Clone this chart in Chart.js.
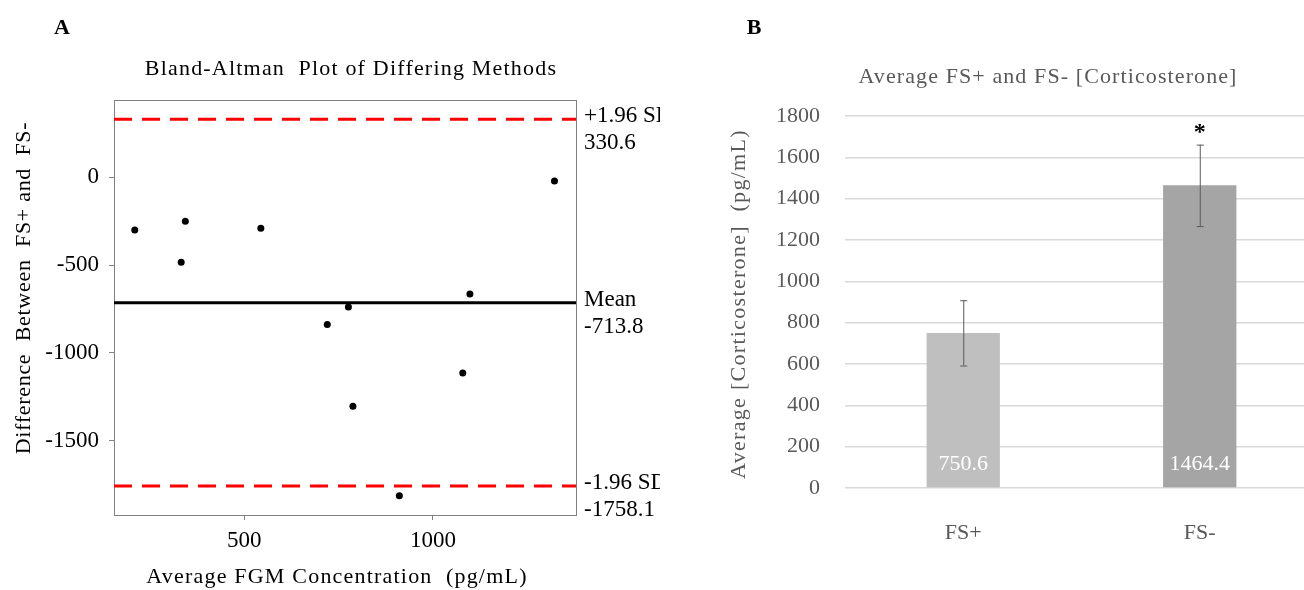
<!DOCTYPE html>
<html>
<head>
<meta charset="utf-8">
<script src="https://cdn.jsdelivr.net/npm/chart.js@4.4.1/dist/chart.umd.min.js"></script>
<style>
  html, body { margin: 0; padding: 0; background: #fff; overflow: hidden; }
  body { width: 1304px; height: 590px; position: relative; }
  #chart-a { position: absolute; left: 0; top: 0; }
  #chart-b { position: absolute; left: 660px; top: 0; }
</style>
</head>
<body>
<canvas id="chart-a" width="660" height="590"></canvas>
<canvas id="chart-b" width="660" height="590"></canvas>
<script>
// panel A: Bland-Altman points
const avgFGM = [210, 344, 333, 544, 1322, 1098, 776, 720, 788, 1079, 911];
const diffFS = [-300, -251, -484, -290, -21, -665, -739, -839, -1304, -1114, -1813];
const limitValues = [330.6, -713.8, -1758.1];
const limitNames = ['+1.96 SD', 'Mean', '-1.96 SD'];
const xTicksA = [500, 1000];
const yTicksA = [-1500, -1000, -500, 0];

// panel B: averages
const categories = ['FS+', 'FS-'];
const meanCort = [750.6, 1464.4];
const errCort = [158, 197];
const sigMarks = ['', '*'];

const serif = "'Liberation Serif', 'DejaVu Serif', serif";
const X_MIN = 155, X_MAX = 1379;

function text(ctx, str, x, y, size, color, opts) {
    opts = opts || {};
    ctx.save();
    ctx.font = (opts.bold ? 'bold ' : '') + size + 'px ' + serif;
    ctx.fillStyle = color;
    ctx.textAlign = opts.align || 'center';
    ctx.textBaseline = 'middle';
    if (opts.spacing) ctx.letterSpacing = opts.spacing + 'px';
    ctx.translate(x, y);
    if (opts.rotate) ctx.rotate(opts.rotate);
    ctx.fillText(str, 0, 0);
    ctx.restore();
}

const points = avgFGM.map((x, i) => ({ x: x, y: diffFS[i] }));
const limitSets = limitValues.map((v, i) => ({
    label: limitNames[i],
    data: [{ x: X_MIN, y: v }, { x: X_MAX, y: v }],
    showLine: true,
    pointRadius: 0,
    borderColor: i === 1 ? '#000000' : '#ff0000',
    borderWidth: 3,
    borderDash: i === 1 ? [] : [18, 10],
    order: 1
}));

const panelA = {
    id: 'panelA',
    beforeDatasetsDraw(chart) {
        const ctx = chart.ctx, a = chart.chartArea;
        ctx.save();
        ctx.strokeStyle = '#808080';
        ctx.lineWidth = 1;
        ctx.strokeRect(a.left + 0.5, a.top + 0.5, a.right - a.left, a.bottom - a.top);
        ctx.restore();
    },
    afterDraw(chart) {
        const ctx = chart.ctx, a = chart.chartArea, y = chart.scales.y;
        text(ctx, 'A', 62, 28, 22, '#000', { bold: true });
        text(ctx, 'Bland-Altman  Plot of Differing Methods', 351, 69, 22, '#000', { spacing: 1.2 });
        text(ctx, 'Average FGM Concentration  (pg/mL)', 337, 577, 22, '#000', { spacing: 1.2 });
        text(ctx, 'Difference  Between  FS+ and  FS-', 24, 288, 22, '#000', { rotate: -Math.PI / 2, spacing: 0.7 });
        limitValues.forEach((v, i) => {
            const py = y.getPixelForValue(v);
            text(ctx, limitNames[i], a.right + 8, py - 3, 23, '#000', { align: 'left' });
            text(ctx, String(v), a.right + 8, py + 24, 23, '#000', { align: 'left' });
        });
    }
};

new Chart(document.getElementById('chart-a'), {
    type: 'scatter',
    data: {
        datasets: [{
            label: 'Difference',
            data: points,
            pointRadius: 3.5,
            pointBackgroundColor: '#000',
            pointBorderWidth: 0,
            order: 0
        }].concat(limitSets)
    },
    options: {
        responsive: false,
        animation: false,
        layout: { padding: { top: 100, right: 84, bottom: 0, left: 0 } },
        plugins: { legend: { display: false }, tooltip: { enabled: false } },
        scales: {
            x: {
                type: 'linear',
                min: X_MIN,
                max: X_MAX,
                afterBuildTicks(s) { s.ticks = xTicksA.map(v => ({ value: v })); },
                afterFit(s) { s.height = 75; },
                border: { display: false },
                grid: { drawOnChartArea: false, tickLength: 5, color: '#808080' },
                ticks: { padding: 7, color: '#000', font: { family: serif, size: 23 }, callback: v => String(v) }
            },
            y: {
                min: -1923,
                max: 440,
                afterBuildTicks(s) { s.ticks = yTicksA.map(v => ({ value: v })); },
                afterFit(s) { s.width = 114; },
                border: { display: false },
                grid: { drawOnChartArea: false, tickLength: 5, color: '#808080' },
                ticks: { padding: 10, color: '#000', font: { family: serif, size: 23 }, callback: v => String(v) }
            }
        }
    },
    plugins: [panelA]
});

const panelB = {
    id: 'panelB',
    afterDatasetsDraw(chart) {
        const ctx = chart.ctx, x = chart.scales.x, y = chart.scales.y;
        categories.forEach((c, i) => {
            const px = x.getPixelForValue(i);
            const top = y.getPixelForValue(meanCort[i] + errCort[i]);
            const bot = y.getPixelForValue(meanCort[i] - errCort[i]);
            ctx.save();
            ctx.strokeStyle = '#595959';
            ctx.lineWidth = 1;
            ctx.beginPath();
            ctx.moveTo(px + 0.5, top); ctx.lineTo(px + 0.5, bot);
            ctx.moveTo(px - 3, top + 0.5); ctx.lineTo(px + 4, top + 0.5);
            ctx.moveTo(px - 3, bot + 0.5); ctx.lineTo(px + 4, bot + 0.5);
            ctx.stroke();
            ctx.restore();
            text(ctx, String(meanCort[i]), px, y.getPixelForValue(0) - 24, 22, '#ffffff');
            if (sigMarks[i]) text(ctx, sigMarks[i], px, top - 12, 24, '#000', { bold: true });
        });
    },
    afterDraw(chart) {
        const ctx = chart.ctx;
        text(ctx, 'B', 94, 28, 22, '#000', { bold: true });
        text(ctx, 'Average FS+ and FS- [Corticosterone]', 388, 77, 22, '#595959', { spacing: 1.1 });
        text(ctx, 'Average [Corticosterone]  (pg/mL)', 79, 304, 22, '#595959', { rotate: -Math.PI / 2, spacing: 1.3 });
    }
};

new Chart(document.getElementById('chart-b'), {
    type: 'bar',
    data: {
        labels: categories,
        datasets: [{
            label: 'Average',
            data: meanCort,
            backgroundColor: ['#bfbfbf', '#a5a5a5'],
            categoryPercentage: 1,
            barPercentage: 0.31
        }]
    },
    options: {
        responsive: false,
        animation: false,
        layout: { padding: { top: 116, right: 2, bottom: 0, left: 0 } },
        plugins: { legend: { display: false }, tooltip: { enabled: false } },
        scales: {
            x: {
                afterFit(s) { s.height = 102; },
                border: { display: false },
                grid: { display: false },
                ticks: { padding: 24, color: '#595959', font: { family: serif, size: 22 } }
            },
            y: {
                min: 0,
                max: 1800,
                afterFit(s) { s.width = 185; },
                border: { display: false },
                grid: { color: '#d9d9d9', lineWidth: 1.5, drawTicks: false },
                ticks: { stepSize: 200, padding: 25, color: '#595959', font: { family: serif, size: 22 }, callback: v => String(v) }
            }
        }
    },
    plugins: [panelB]
});
</script>
</body>
</html>
